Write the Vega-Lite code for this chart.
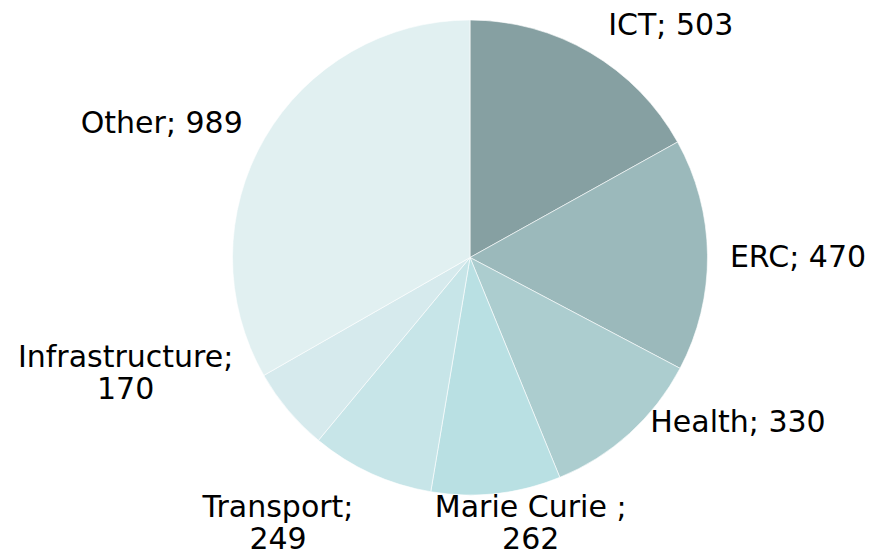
{
  "$schema": "https://vega.github.io/schema/vega-lite/v6.json",
  "width": 820,
  "height": 515,
  "autosize": {"type": "none"},
  "padding": {"left": 60, "top": 0, "right": 0, "bottom": 40},
  "background": "white",
  "data": {
    "values": [
      {"cat": "ICT", "value": 503, "label": "ICT; 503"},
      {"cat": "ERC", "value": 470, "label": "ERC; 470"},
      {"cat": "Health", "value": 330, "label": "Health; 330"},
      {"cat": "Marie Curie", "value": 262, "label": "Marie Curie ;\n262"},
      {"cat": "Transport", "value": 249, "label": "Transport;\n249"},
      {"cat": "Infrastructure", "value": 170, "label": "Infrastructure;\n170"},
      {"cat": "Other", "value": 989, "label": "Other; 989"}
    ]
  },
  "transform": [{"window": [{"op": "row_number", "as": "idx"}]}],
  "encoding": {
    "theta": {"field": "value", "type": "quantitative", "stack": true},
    "order": {"field": "idx", "type": "quantitative"}
  },
  "layer": [
    {
      "mark": {"type": "arc", "outerRadius": 237.5, "stroke": "#ffffff", "strokeWidth": 0.6},
      "encoding": {
        "color": {
          "field": "cat",
          "type": "nominal",
          "scale": {
            "domain": ["ICT", "ERC", "Health", "Marie Curie", "Transport", "Infrastructure", "Other"],
            "range": ["#86a0a2", "#9bb9bb", "#accdcf", "#b9e0e3", "#c7e5e8", "#d6eaed", "#e1f0f1"]
          },
          "legend": null
        }
      }
    },
    {
      "mark": {"type": "text", "radius": 250, "dx": 74, "dy": -7},
      "encoding": {"text": {"condition": {"test": "datum.cat === 'ICT'", "field": "label"}, "value": ""}}
    },
    {
      "mark": {"type": "text", "radius": 250, "dx": 78, "dy": 12},
      "encoding": {"text": {"condition": {"test": "datum.cat === 'ERC'", "field": "label"}, "value": ""}}
    },
    {
      "mark": {"type": "text", "radius": 250, "dx": 100, "dy": -11},
      "encoding": {"text": {"condition": {"test": "datum.cat === 'Health'", "field": "label"}, "value": ""}}
    },
    {
      "mark": {"type": "text", "radius": 250, "dx": 33, "dy": 11},
      "encoding": {"text": {"condition": {"test": "datum.cat === 'Marie Curie'", "field": "label"}, "value": ""}}
    },
    {
      "mark": {"type": "text", "radius": 250, "dx": -88, "dy": 32},
      "encoding": {"text": {"condition": {"test": "datum.cat === 'Transport'", "field": "label"}, "value": ""}}
    },
    {
      "mark": {"type": "text", "radius": 250, "dx": -153, "dy": -51},
      "encoding": {"text": {"condition": {"test": "datum.cat === 'Infrastructure'", "field": "label"}, "value": ""}}
    },
    {
      "mark": {"type": "text", "radius": 250, "dx": -92, "dy": 1},
      "encoding": {"text": {"condition": {"test": "datum.cat === 'Other'", "field": "label"}, "value": ""}}
    }
  ],
  "config": {
    "view": {"stroke": null},
    "text": {
      "font": "DejaVu Sans",
      "fontSize": 30,
      "align": "center",
      "baseline": "alphabetic",
      "lineBreak": "\n",
      "lineHeight": 32,
      "color": "#000000"
    }
  }
}
